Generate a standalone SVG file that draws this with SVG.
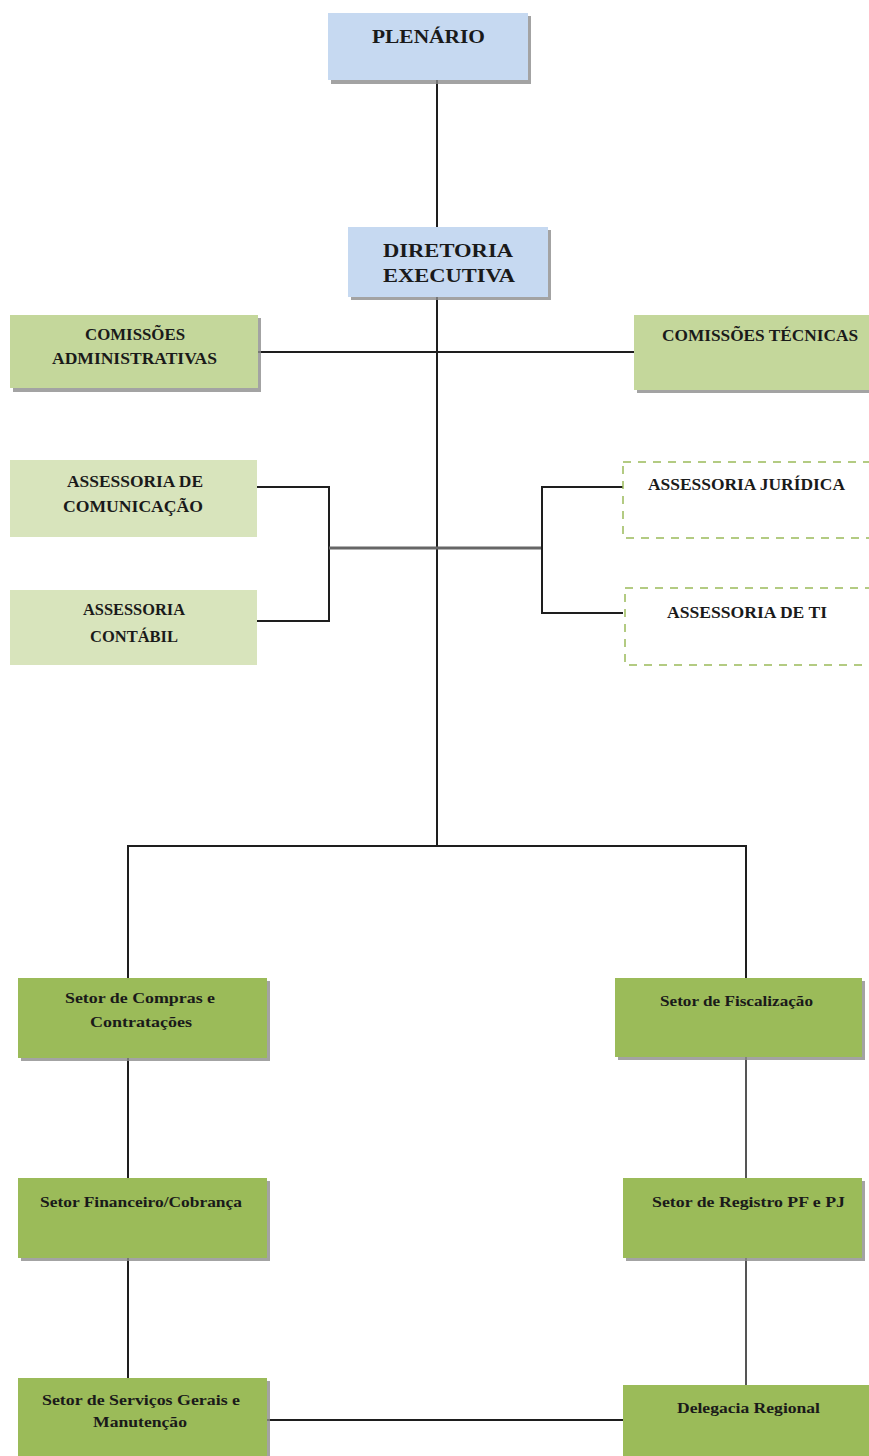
<svg xmlns="http://www.w3.org/2000/svg" width="869" height="1456" viewBox="0 0 869 1456">
<style>
.shadow{fill:#8c8c8c;opacity:0.8}
.blue{fill:#c6d9f1}
.green1{fill:#c4d79b}
.green2{fill:#d8e4bc}
.green3{fill:#9bbb59}
.dash{fill:#ffffff;stroke:#9bbb59;stroke-width:1.5;stroke-dasharray:8,7}
text{font-family:"Liberation Serif","Times New Roman",serif;font-weight:bold;fill:#1a1a1a}
.big{font-size:19px}
.cap{font-size:16px}
.low{font-size:14px}
.ln{stroke:#1e1e1e;stroke-width:2;fill:none}
.lg{stroke:#555;stroke-width:2;fill:none}
.lg3{stroke:#666;stroke-width:3;fill:none}
</style>
<rect width="869" height="1456" fill="#ffffff"/>
<g id="connectors">
<line class="ln" x1="437" y1="80" x2="437" y2="227"/>
<line class="ln" x1="437" y1="297" x2="437" y2="846"/>
<line class="ln" x1="258" y1="352" x2="634" y2="352"/>
<polyline class="ln" points="257,487 329,487 329,621 257,621"/>
<line class="lg3" x1="329" y1="548" x2="542" y2="548"/>
<polyline class="ln" points="623,487 542,487 542,613 623,613"/>
<polyline class="ln" points="128,978 128,846 746,846 746,978"/>
<line class="ln" x1="128" y1="1058" x2="128" y2="1178"/>
<line class="lg" x1="746" y1="1057" x2="746" y2="1178"/>
<line class="ln" x1="128" y1="1258" x2="128" y2="1378"/>
<line class="lg" x1="746" y1="1258" x2="746" y2="1385"/>
<line class="ln" x1="267" y1="1420" x2="623" y2="1420"/>
</g>
<g id="plenario">
<rect class="shadow" x="331" y="16" width="200" height="68"/>
<rect class="blue" x="328" y="13" width="200" height="67"/>
<text class="big" x="372" y="43" textLength="113" lengthAdjust="spacingAndGlyphs">PLENÁRIO</text>
</g>
<g id="diretoria">
<rect class="shadow" x="351" y="230" width="200" height="70"/>
<rect class="blue" x="348" y="227" width="200" height="70"/>
<text class="big" x="383" y="257" textLength="130" lengthAdjust="spacingAndGlyphs">DIRETORIA</text>
<text class="big" x="383" y="282" textLength="132" lengthAdjust="spacingAndGlyphs">EXECUTIVA</text>
</g>
<g id="comissoes-adm">
<rect class="shadow" x="13" y="318" width="248" height="74"/>
<rect class="green1" x="10" y="315" width="248" height="73"/>
<text class="cap" x="85" y="340" textLength="100" lengthAdjust="spacingAndGlyphs">COMISSÕES</text>
<text class="cap" x="52" y="364" textLength="165" lengthAdjust="spacingAndGlyphs">ADMINISTRATIVAS</text>
</g>
<g id="comissoes-tec">
<rect class="shadow" x="637" y="318" width="235" height="75"/>
<rect class="green1" x="634" y="315" width="235" height="75"/>
<text class="cap" x="662" y="341" textLength="196" lengthAdjust="spacingAndGlyphs">COMISSÕES  TÉCNICAS</text>
</g>
<g id="assessoria-comunicacao">
<rect class="green2" x="10" y="460" width="247" height="77"/>
<text class="cap" x="67" y="487" textLength="136" lengthAdjust="spacingAndGlyphs">ASSESSORIA  DE</text>
<text class="cap" x="63" y="512" textLength="140" lengthAdjust="spacingAndGlyphs">COMUNICAÇÃO</text>
</g>
<g id="assessoria-contabil">
<rect class="green2" x="10" y="590" width="247" height="75"/>
<text class="cap" x="83" y="615" textLength="102" lengthAdjust="spacingAndGlyphs">ASSESSORIA</text>
<text class="cap" x="90" y="642" textLength="88" lengthAdjust="spacingAndGlyphs">CONTÁBIL</text>
</g>
<g id="assessoria-juridica">
<rect class="dash" x="623" y="462" width="260" height="76"/>
<text class="cap" x="648" y="490" textLength="197" lengthAdjust="spacingAndGlyphs">ASSESSORIA  JURÍDICA</text>
</g>
<g id="assessoria-ti">
<rect class="dash" x="625" y="588" width="260" height="77"/>
<text class="cap" x="667" y="618" textLength="160" lengthAdjust="spacingAndGlyphs">ASSESSORIA  DE TI</text>
</g>
<g id="setor-compras">
<rect class="shadow" x="21" y="981" width="249" height="80"/>
<rect class="green3" x="18" y="978" width="249" height="80"/>
<text class="low" x="65" y="1003" textLength="150" lengthAdjust="spacingAndGlyphs">Setor de Compras e</text>
<text class="low" x="90" y="1027" textLength="102" lengthAdjust="spacingAndGlyphs">Contratações</text>
</g>
<g id="setor-fiscalizacao">
<rect class="shadow" x="618" y="981" width="247" height="79"/>
<rect class="green3" x="615" y="978" width="247" height="79"/>
<text class="low" x="660" y="1006" textLength="153" lengthAdjust="spacingAndGlyphs">Setor de Fiscalização</text>
</g>
<g id="setor-financeiro">
<rect class="shadow" x="21" y="1181" width="249" height="80"/>
<rect class="green3" x="18" y="1178" width="249" height="80"/>
<text class="low" x="40" y="1207" textLength="202" lengthAdjust="spacingAndGlyphs">Setor Financeiro/Cobrança</text>
</g>
<g id="setor-registro">
<rect class="shadow" x="626" y="1181" width="239" height="80"/>
<rect class="green3" x="623" y="1178" width="239" height="80"/>
<text class="low" x="652" y="1207" textLength="193" lengthAdjust="spacingAndGlyphs">Setor de Registro PF e PJ</text>
</g>
<g id="setor-servicos">
<rect class="shadow" x="21" y="1381" width="249" height="78"/>
<rect class="green3" x="18" y="1378" width="249" height="78"/>
<text class="low" x="42" y="1405" textLength="198" lengthAdjust="spacingAndGlyphs">Setor de Serviços Gerais e</text>
<text class="low" x="93" y="1427" textLength="94" lengthAdjust="spacingAndGlyphs">Manutenção</text>
</g>
<g id="delegacia">
<rect class="green3" x="623" y="1385" width="246" height="71"/>
<text class="low" x="677" y="1413" textLength="143" lengthAdjust="spacingAndGlyphs">Delegacia Regional</text>
</g>
</svg>
